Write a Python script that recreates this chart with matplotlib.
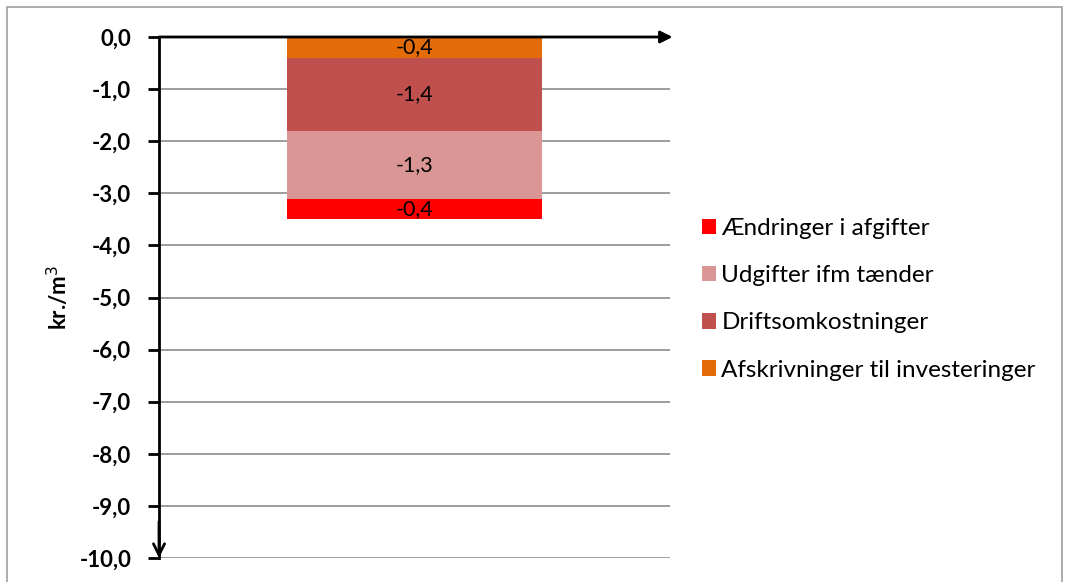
import matplotlib
matplotlib.use('Agg')
import matplotlib.pyplot as plt
from matplotlib.patches import Rectangle

plt.rcParams['font.family'] = ['Lato', 'DejaVu Sans']

# stacked from top (0) downwards
series = ['Afskrivninger til investeringer', 'Driftsomkostninger',
          'Udgifter ifm tænder', 'Ændringer i afgifter']
values = [-0.4, -1.4, -1.3, -0.4]
colors = ['#E36C09', '#C0504D', '#D99694', '#FF0000']
yticks = [0, -1, -2, -3, -4, -5, -6, -7, -8, -9, -10]

fig = plt.figure(figsize=(10.69, 5.82), dpi=100)
fig.patches.append(Rectangle((7/1069, -0.02), 1055/1069, 1 - 7/582 + 0.02,
                             transform=fig.transFigure, fill=False,
                             edgecolor='#a0a0a0', lw=1.2))
ax = fig.add_axes([159/1069, 1 - 558/582, 511/1069, 521/582])

bottom = 0
handles = []
for name, v, c in zip(series, values, colors):
    b = ax.bar(0.5, v, width=0.5, bottom=bottom, color=c, label=name, zorder=2)
    ax.text(0.5, bottom + v/2, ('%.1f' % v).replace('.', ','), ha='center',
            va='center', fontsize=15.5, color='black', zorder=3)
    handles.append(b)
    bottom += v

ax.set_xlim(0, 1)
ax.set_ylim(-10, 0)
ax.set_yticks(yticks)
ax.set_yticklabels([('%.1f' % t).replace('.', ',') for t in yticks],
                   fontsize=16, fontweight='bold')
ax.set_xticks([])
for y in yticks[1:]:
    ax.axhline(y, color='#8c8c8c', lw=1.2, zorder=1)
ax.tick_params(axis='y', direction='out', length=8, width=2, pad=12)
for s in ['top', 'right', 'bottom']:
    ax.spines[s].set_visible(False)
ax.spines['left'].set_linewidth(2)

# arrows: x axis at top (0) pointing right, y axis pointing down
ax.annotate('', xy=(1.005, 0), xytext=(0, 0), xycoords='data',
            arrowprops=dict(arrowstyle='-|>', color='black', lw=2,
                            mutation_scale=18, shrinkA=0, shrinkB=0),
            annotation_clip=False)
ax.annotate('', xy=(0, -10), xytext=(0, -9.3), xycoords='data',
            arrowprops=dict(arrowstyle='->', color='black', lw=2,
                            mutation_scale=20, shrinkA=0, shrinkB=0),
            annotation_clip=False)

ax.set_ylabel('kr./m$^3$', fontsize=16, fontweight='bold', labelpad=6)

leg = fig.legend(handles[::-1], series[::-1], loc='upper left',
                 bbox_to_anchor=(680/1069, 1 - 196/582), frameon=False,
                 fontsize=17.5, handlelength=0.6, handleheight=0.6,
                 handletextpad=0.2, labelspacing=1.08)

fig.savefig('out.png', dpi=100)
